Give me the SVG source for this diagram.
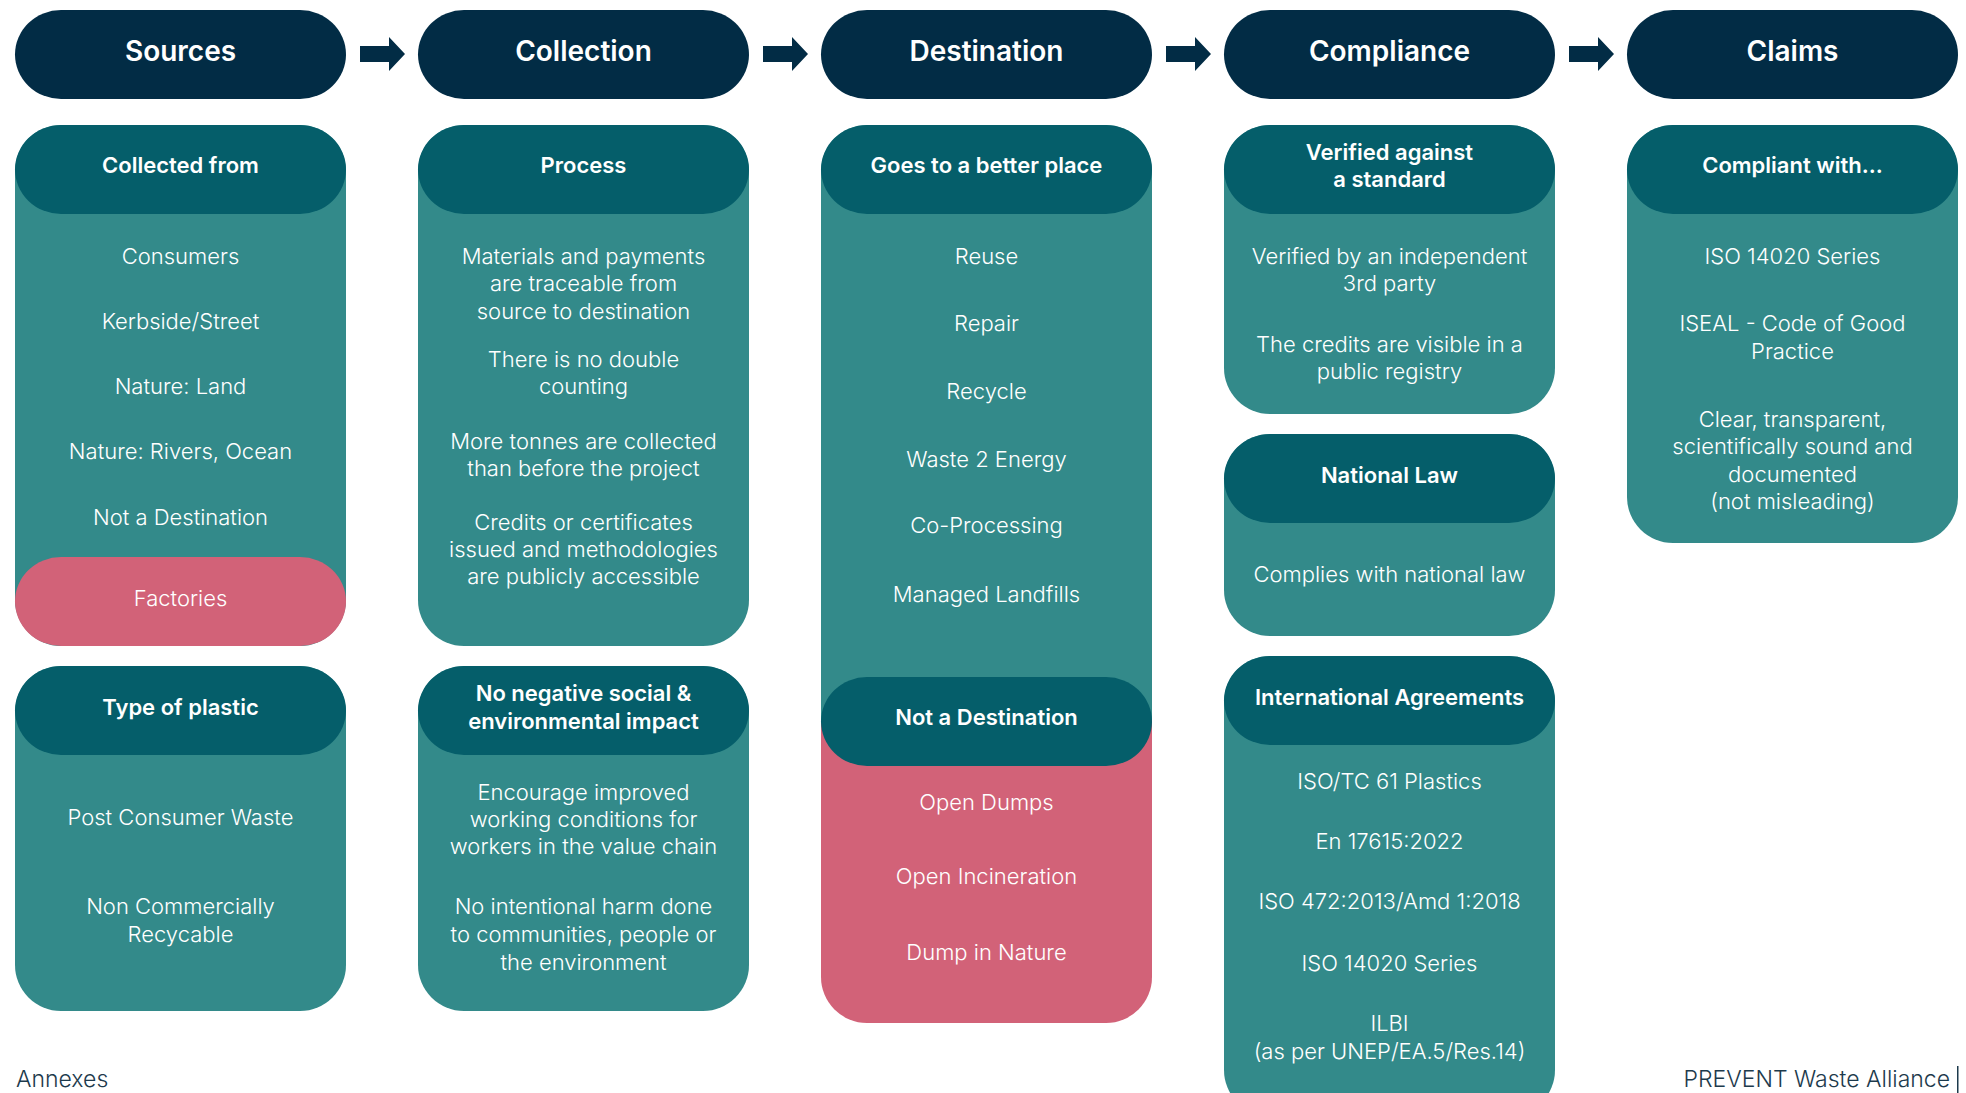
<svg xmlns="http://www.w3.org/2000/svg" width="1966" height="1093" viewBox="0 0 1966 1093">
  <style>
    .stage { fill: #022c45; }
    .band { fill: #055e6a; }
    .card { fill: #338a8a; }
    .warn { fill: #d26278; }
    text { font-family: Inter, "Noto Sans", "Liberation Sans", sans-serif; fill: #ffffff; text-anchor: middle; }
    .title { font-size: 28px; font-weight: 600; }
    .sub { font-size: 22px; font-weight: 600; }
    .item { font-size: 22px; font-weight: 300; }
    .foot { font-size: 23px; font-weight: 300; fill: #1d3a4c; }
    .arrow { fill: #022c45; }
  </style>
  <rect width="1966" height="1093" fill="#ffffff"/>

  <!-- stage headers -->
  <g id="sources"><rect class="stage" x="15" y="10" width="331" height="89" rx="46"/><text class="title" x="180.5" y="61">Sources</text></g>
  <g id="collection"><rect class="stage" x="418" y="10" width="331" height="89" rx="46"/><text class="title" x="583.5" y="61">Collection</text></g>
  <g id="destination"><rect class="stage" x="821" y="10" width="331" height="89" rx="46"/><text class="title" x="986.5" y="61">Destination</text></g>
  <g id="compliance"><rect class="stage" x="1224" y="10" width="331" height="89" rx="46"/><text class="title" x="1389.5" y="61">Compliance</text></g>
  <g id="claims"><rect class="stage" x="1627" y="10" width="331" height="89" rx="46"/><text class="title" x="1792.5" y="61">Claims</text></g>

  <!-- flow arrows between stages -->
  <g id="connectors">
    <path class="arrow" d="M360 46 H389 V37 L405 54 L389 71 V62 H360 Z"/>
    <path class="arrow" d="M763 46 H792 V37 L808 54 L792 71 V62 H763 Z"/>
    <path class="arrow" d="M1166 46 H1195 V37 L1211 54 L1195 71 V62 H1166 Z"/>
    <path class="arrow" d="M1569 46 H1598 V37 L1614 54 L1598 71 V62 H1569 Z"/>
  </g>

  <!-- Sources: collected from -->
  <g id="collected-from">
    <rect class="card" x="15" y="125" width="331" height="521" rx="46"/>
    <rect class="band" x="15" y="125" width="331" height="89" rx="46"/>
    <text class="sub" x="180.5" y="173">Collected from</text>
    <text class="item" x="180.5" y="264">Consumers</text>
    <text class="item" x="180.5" y="329">Kerbside/Street</text>
    <text class="item" x="180.5" y="394">Nature: Land</text>
    <text class="item" x="180.5" y="459">Nature: Rivers, Ocean</text>
    <text class="item" x="180.5" y="525">Not a Destination</text>
    <rect class="warn" x="15" y="557" width="331" height="89" rx="46"/>
    <text class="item" x="180.5" y="606">Factories</text>
  </g>

  <!-- Sources: type of plastic -->
  <g id="type-of-plastic">
    <rect class="card" x="15" y="666" width="331" height="345" rx="46"/>
    <rect class="band" x="15" y="666" width="331" height="89" rx="46"/>
    <text class="sub" x="180.5" y="715">Type of plastic</text>
    <text class="item" x="180.5" y="825">Post Consumer Waste</text>
    <text class="item" x="180.5" y="914">Non Commercially</text>
    <text class="item" x="180.5" y="942">Recycable</text>
  </g>

  <!-- Collection: process -->
  <g id="process">
    <rect class="card" x="418" y="125" width="331" height="521" rx="46"/>
    <rect class="band" x="418" y="125" width="331" height="89" rx="46"/>
    <text class="sub" x="583.5" y="173">Process</text>
    <text class="item" x="583.5" y="264">Materials and payments</text>
    <text class="item" x="583.5" y="291">are traceable from</text>
    <text class="item" x="583.5" y="319">source to destination</text>
    <text class="item" x="583.5" y="367">There is no double</text>
    <text class="item" x="583.5" y="394">counting</text>
    <text class="item" x="583.5" y="449">More tonnes are collected</text>
    <text class="item" x="583.5" y="476">than before the project</text>
    <text class="item" x="583.5" y="530">Credits or certificates</text>
    <text class="item" x="583.5" y="557">issued and methodologies</text>
    <text class="item" x="583.5" y="584">are publicly accessible</text>
  </g>

  <!-- Collection: impact -->
  <g id="impact">
    <rect class="card" x="418" y="666" width="331" height="345" rx="46"/>
    <rect class="band" x="418" y="666" width="331" height="89" rx="46"/>
    <text class="sub" x="583.5" y="701">No negative social &amp;</text>
    <text class="sub" x="583.5" y="729">environmental impact</text>
    <text class="item" x="583.5" y="800">Encourage improved</text>
    <text class="item" x="583.5" y="827">working conditions for</text>
    <text class="item" x="583.5" y="854">workers in the value chain</text>
    <text class="item" x="583.5" y="914">No intentional harm done</text>
    <text class="item" x="583.5" y="942">to communities, people or</text>
    <text class="item" x="583.5" y="970">the environment</text>
  </g>

  <!-- Destination: better place / not a destination -->
  <g id="better-place">
    <rect class="card" x="821" y="125" width="331" height="700" rx="46"/>
    <path class="warn" d="M821 720 H1152 V977 A46 46 0 0 1 1106 1023 H867 A46 46 0 0 1 821 977 Z"/>
    <rect class="band" x="821" y="125" width="331" height="89" rx="46"/>
    <text class="sub" x="986.5" y="173">Goes to a better place</text>
    <text class="item" x="986.5" y="264">Reuse</text>
    <text class="item" x="986.5" y="331">Repair</text>
    <text class="item" x="986.5" y="399">Recycle</text>
    <text class="item" x="986.5" y="467">Waste 2 Energy</text>
    <text class="item" x="986.5" y="533">Co-Processing</text>
    <text class="item" x="986.5" y="602">Managed Landfills</text>
  </g>
  <g id="not-destination">
    <rect class="band" x="821" y="677" width="331" height="89" rx="46"/>
    <text class="sub" x="986.5" y="725">Not a Destination</text>
    <text class="item" x="986.5" y="810">Open Dumps</text>
    <text class="item" x="986.5" y="884">Open Incineration</text>
    <text class="item" x="986.5" y="960">Dump in Nature</text>
  </g>

  <!-- Compliance: standard -->
  <g id="standard">
    <rect class="card" x="1224" y="125" width="331" height="289" rx="46"/>
    <rect class="band" x="1224" y="125" width="331" height="89" rx="46"/>
    <text class="sub" x="1389.5" y="160">Verified against</text>
    <text class="sub" x="1389.5" y="187">a standard</text>
    <text class="item" x="1389.5" y="264">Verified by an independent</text>
    <text class="item" x="1389.5" y="291">3rd party</text>
    <text class="item" x="1389.5" y="352">The credits are visible in a</text>
    <text class="item" x="1389.5" y="379">public registry</text>
  </g>

  <!-- Compliance: national law -->
  <g id="national-law">
    <rect class="card" x="1224" y="434" width="331" height="202" rx="46"/>
    <rect class="band" x="1224" y="434" width="331" height="89" rx="46"/>
    <text class="sub" x="1389.5" y="483">National Law</text>
    <text class="item" x="1389.5" y="582">Complies with national law</text>
  </g>

  <!-- Compliance: international agreements -->
  <g id="international">
    <rect class="card" x="1224" y="656" width="331" height="460" rx="46"/>
    <rect class="band" x="1224" y="656" width="331" height="89" rx="46"/>
    <text class="sub" x="1389.5" y="705">International Agreements</text>
    <text class="item" x="1389.5" y="789">ISO/TC 61 Plastics</text>
    <text class="item" x="1389.5" y="849">En 17615:2022</text>
    <text class="item" x="1389.5" y="909">ISO 472:2013/Amd 1:2018</text>
    <text class="item" x="1389.5" y="971">ISO 14020 Series</text>
    <text class="item" x="1389.5" y="1031">ILBI</text>
    <text class="item" x="1389.5" y="1059">(as per UNEP/EA.5/Res.14)</text>
  </g>

  <!-- Claims: compliant with -->
  <g id="compliant-with">
    <rect class="card" x="1627" y="125" width="331" height="418" rx="46"/>
    <rect class="band" x="1627" y="125" width="331" height="89" rx="46"/>
    <text class="sub" x="1792.5" y="173">Compliant with...</text>
    <text class="item" x="1792.5" y="264">ISO 14020 Series</text>
    <text class="item" x="1792.5" y="331">ISEAL - Code of Good</text>
    <text class="item" x="1792.5" y="359">Practice</text>
    <text class="item" x="1792.5" y="427">Clear, transparent,</text>
    <text class="item" x="1792.5" y="454">scientifically sound and</text>
    <text class="item" x="1792.5" y="482">documented</text>
    <text class="item" x="1792.5" y="509">(not misleading)</text>
  </g>

  <!-- page footer -->
  <g id="footer">
    <text class="foot" x="16" y="1087" style="text-anchor:start">Annexes</text>
    <text class="foot" x="1950" y="1087" style="text-anchor:end">PREVENT Waste Alliance</text>
    <rect x="1957" y="1066" width="1.5" height="27" fill="#1d3a4c"/>
  </g>
</svg>
